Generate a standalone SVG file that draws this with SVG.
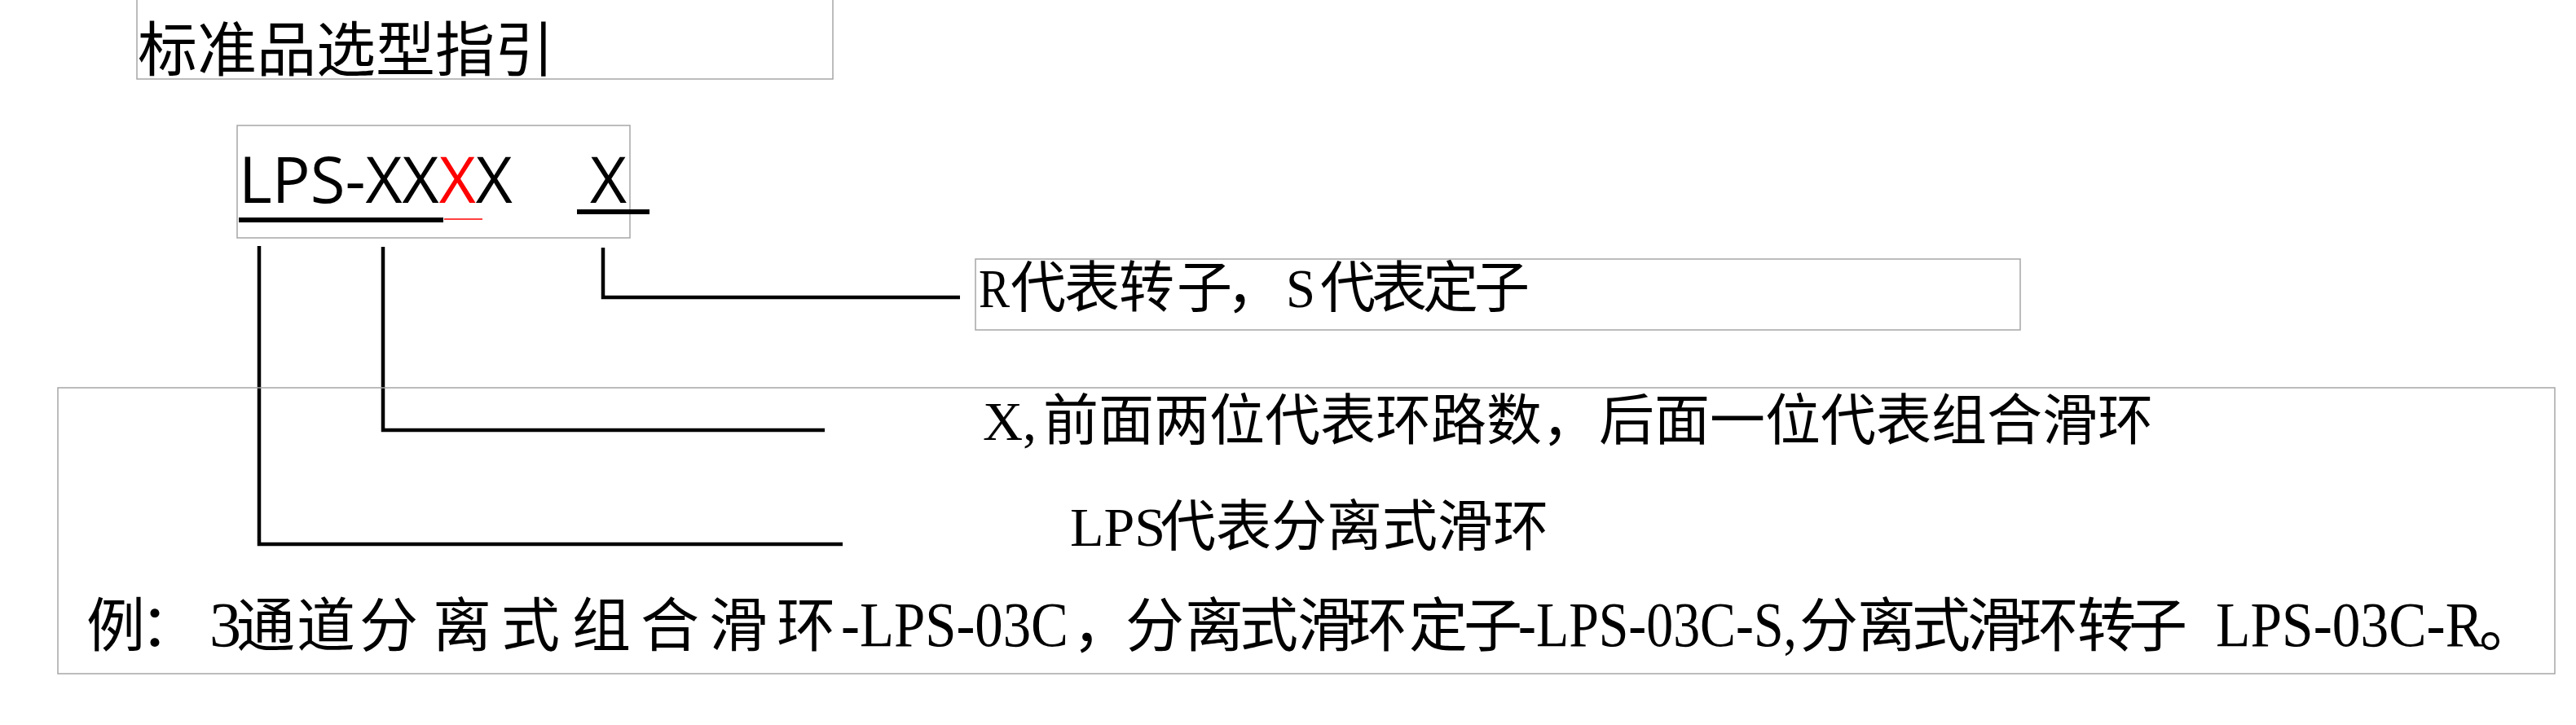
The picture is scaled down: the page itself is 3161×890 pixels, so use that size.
<svg xmlns="http://www.w3.org/2000/svg" width="3161" height="890" viewBox="0 0 3161 890">
<style>
  .box { fill: none; stroke: #a6a6a6; stroke-width: 1.5; }
  .cn { font-family: "Liberation Serif", "Noto Sans CJK SC", serif; fill: #000; }
  .lat { font-family: "Liberation Serif", "Noto Sans CJK SC", serif; fill: #000; }
  .code { font-family: "Open Sans", "Noto Sans", sans-serif; font-size: 78px; fill: #000; }
  .conn { fill: none; stroke: #000; stroke-width: 4.5; stroke-linecap: butt; stroke-linejoin: miter; }
</style>
<rect width="3161" height="890" fill="#ffffff"/>

<g id="title">
  <rect class="box" x="168" y="-2" width="854" height="99"/>
  <text class="cn" x="169" y="87" font-size="73">标准品选型指引</text>
</g>

<g id="code">
  <rect class="box" x="291" y="154" width="482" height="138"/>
  <text class="code" x="293" y="249">LPS-XX<tspan fill="#ff0000">X</tspan>X</text>
  <text class="code" x="724" y="249">X</text>
  <rect x="293" y="267" width="251" height="6" fill="#000"/>
  <line x1="545" y1="269" x2="592" y2="269" stroke="#ff0000" stroke-width="1.5"/>
  <rect x="708" y="257" width="89" height="6" fill="#000"/>
</g>

<g id="connectors">
  <polyline class="conn" points="318,302 318,668 1034,668"/>
  <polyline class="conn" points="470,303 470,528 1012,528"/>
  <polyline class="conn" points="740,304 740,365 1178,365"/>
</g>

<g id="rs-note">
  <rect class="box" x="1197" y="318" width="1282" height="87"/>
  <text class="lat" x="1201" y="377" font-size="68" textLength="38" lengthAdjust="spacingAndGlyphs">R</text>
  <text class="cn" y="377" font-size="68" x="1240 1306 1373 1444 1505">代表转子，</text>
  <text class="lat" x="1578" y="377" font-size="68" textLength="36" lengthAdjust="spacingAndGlyphs">S</text>
  <text class="cn" y="377" font-size="68" x="1620 1683 1746 1809">代表定子</text>
</g>

<g id="explain">
  <rect class="box" x="71" y="476" width="3064" height="351"/>
  <text class="cn" y="540" font-size="68"><tspan x="1206">X,</tspan><tspan x="1280">前面两位代表环路数，</tspan><tspan x="1962">后面一位代表组合滑环</tspan></text>
  <text class="cn" y="670" font-size="68"><tspan x="1313">LPS</tspan><tspan x="1424">代表分离式滑环</tspan></text>
  <g id="example">
    <text class="cn" y="793" font-size="72" x="106 172">例：</text>
    <text class="lat" x="257" y="793" font-size="78">3</text>
    <text class="cn" y="793" font-size="72" x="290 364 441 531 615 702 786 870 953">通道分离式组合滑环</text>
    <text class="lat" x="1032" y="793" font-size="78" textLength="279" lengthAdjust="spacingAndGlyphs">-LPS-03C</text>
    <text class="cn" y="793" font-size="72" x="1316 1381 1454 1521 1592 1655 1729 1796">，分离式滑环定子</text>
    <text class="lat" x="1863" y="793" font-size="78" textLength="342" lengthAdjust="spacingAndGlyphs">-LPS-03C-S,</text>
    <text class="cn" y="793" font-size="72" x="2208 2279 2346 2414 2478 2549 2612">分离式滑环转子</text>
    <text class="lat" x="2719" y="793" font-size="78" textLength="328" lengthAdjust="spacingAndGlyphs">LPS-03C-R</text>
    <text class="cn" x="3042" y="793" font-size="72">。</text>
  </g>
</g>
</svg>
